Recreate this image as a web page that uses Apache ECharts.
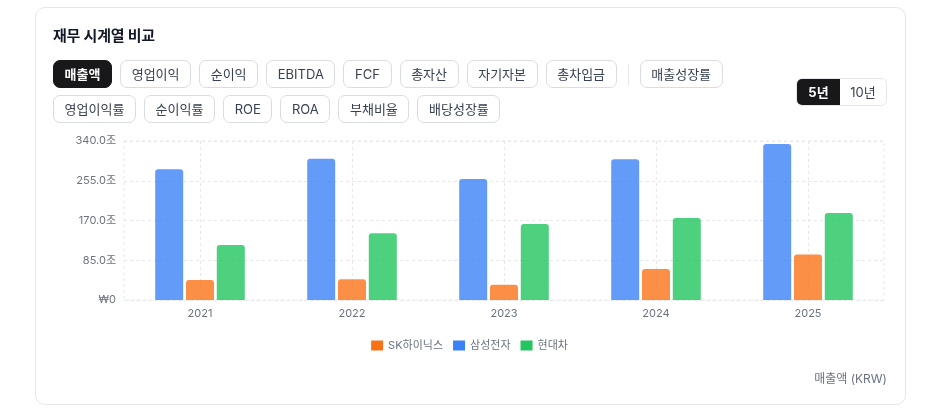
<!DOCTYPE html>
<html>
<head>
<meta charset="utf-8">
<script src="https://cdn.jsdelivr.net/npm/echarts@6/dist/echarts.min.js"></script>
<style>
  html, body { margin: 0; padding: 0; width: 939px; height: 412px; background: #ffffff; overflow: hidden;
    font-family: Inter, "Noto Sans CJK KR", "Noto Sans", sans-serif; }
  #card { position: absolute; left: 35px; top: 7px; width: 869px; height: 396px; border: 1px solid #e5e7eb;
    border-radius: 10px; background: #fff; box-sizing: content-box; }
  #chart { position: absolute; left: 0; top: 0; width: 939px; height: 412px; }
  .title { position: absolute; left: 53px; top: 24px; font-size: 15px; font-weight: 700; color: #111827; letter-spacing: -0.2px; }
  .row { position: absolute; left: 53px; display: flex; align-items: center; gap: 8px; }
  .btn { height: 26px; line-height: 26px; padding: 0 10.6px; border: 1px solid #d9dce1; border-radius: 7px;
    font-size: 13px; color: #374151; background: #fff; white-space: nowrap; }
  .btn.active { background: #18181b; border-color: #18181b; color: #fff; font-weight: 700; }
  .sep { width: 1px; height: 21px; background: #e5e7eb; margin: 0 3px; }
  .toggle { position: absolute; left: 796px; top: 78px; width: 89px; height: 26px; border: 1px solid #e5e7eb;
    border-radius: 6px; display: flex; overflow: hidden; font-size: 13px; }
  .toggle div { line-height: 26px; text-align: center; }
  .toggle .on { width: 43px; background: #18181b; color: #fff; font-weight: 700; }
  .toggle .off { flex: 1; color: #374151; }
  .unit { position: absolute; right: 52px; top: 369px; font-size: 12px; color: #6b7280; }
</style>
</head>
<body>
<div id="card"></div>
<div id="chart"></div>
<div class="title">재무 시계열 비교</div>
<div class="row" style="top:60px">
  <div class="btn active">매출액</div>
  <div class="btn">영업이익</div>
  <div class="btn">순이익</div>
  <div class="btn">EBITDA</div>
  <div class="btn">FCF</div>
  <div class="btn">총자산</div>
  <div class="btn">자기자본</div>
  <div class="btn">총차입금</div>
  <div class="sep"></div>
  <div class="btn">매출성장률</div>
</div>
<div class="row" style="top:95px">
  <div class="btn">영업이익률</div>
  <div class="btn">순이익률</div>
  <div class="btn">ROE</div>
  <div class="btn">ROA</div>
  <div class="btn">부채비율</div>
  <div class="btn">배당성장률</div>
</div>
<div class="toggle"><div class="on">5년</div><div class="off">10년</div></div>
<div class="unit">매출액 (KRW)</div>
<script>
// Data (unit: 조원)
const years = ['2021', '2022', '2023', '2024', '2025'];
const samsung = [279.6, 302.2, 258.9, 300.9, 333.6];
const skHynix = [43.0, 44.6, 32.8, 66.2, 97.1];
const hyundai = [117.6, 142.5, 162.7, 175.2, 186.3];
const seriesNames = ['삼성전자', 'SK하이닉스', '현대차'];
const legendOrder = ['SK하이닉스', '삼성전자', '현대차'];
const yTicks = { min: 0, max: 340, interval: 85 };

const colors = { '삼성전자': '#3b82f6', 'SK하이닉스': '#f97316', '현대차': '#22c55e' };
const values = { '삼성전자': samsung, 'SK하이닉스': skHynix, '현대차': hyundai };

const chart = echarts.init(document.getElementById('chart'), null, { renderer: 'canvas' });
const fontFamily = 'Inter, "Noto Sans CJK KR", sans-serif';
chart.setOption({
  animation: false,
  textStyle: { fontFamily: fontFamily },
  grid: { left: 124, right: 55, top: 141, bottom: 112, show: true, borderColor: '#e5e7eb', borderWidth: 1,
    borderType: [3, 3], backgroundColor: 'transparent' },
  legend: {
    data: legendOrder, bottom: 56, left: 'center', itemWidth: 12, itemHeight: 10, itemGap: 10,
    icon: 'rect', textStyle: { color: '#6b7280', fontSize: 11, fontFamily: fontFamily },
    itemStyle: { opacity: 1 }
  },
  xAxis: {
    type: 'category', data: years,
    axisLine: { show: false }, axisTick: { show: false },
    axisLabel: { color: '#6b7280', fontSize: 11, margin: 8 },
    splitLine: { show: true, alignWithLabel: true, lineStyle: { color: '#e5e7eb', type: [3, 3] } }
  },
  yAxis: {
    type: 'value', min: yTicks.min, max: yTicks.max, interval: yTicks.interval,
    axisLine: { show: false }, axisTick: { show: false },
    axisLabel: { color: '#6b7280', fontSize: 11, margin: 8,
      formatter: v => v === 0 ? '₩0' : v.toFixed(1) + '조' },
    splitLine: { show: true, lineStyle: { color: '#e5e7eb', type: [3, 3] } }
  },
  series: seriesNames.map(n => ({
    name: n, type: 'bar', data: values[n], barWidth: 28, barGap: '10%',
    itemStyle: { color: colors[n], opacity: 0.8, borderRadius: [3, 3, 0, 0] }
  }))
});
</script>
</body>
</html>
